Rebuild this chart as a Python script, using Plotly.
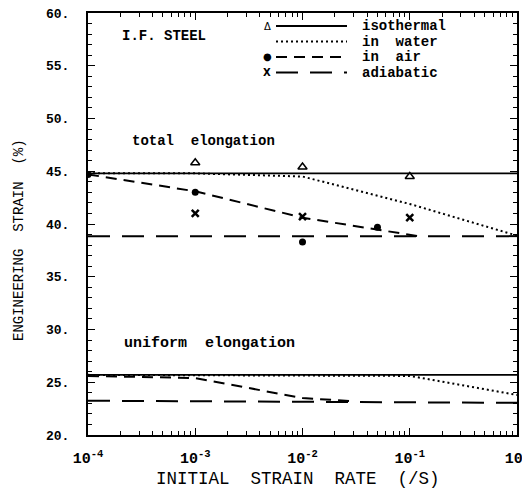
import plotly.graph_objects as go

# ---------------- data ----------------
rate_full = [1e-4, 1e0]

# total elongation
total_iso_line = [44.8, 44.8]
total_iso_rate = [1e-3, 1e-2, 1e-1]
total_iso_pts = [45.8, 45.4, 44.5]

total_water_rate = [1e-4, 1e-3, 1e-2, 1e-1, 1e0]
total_water = [44.8, 44.8, 44.5, 41.9, 38.9]

total_air_line_rate = [1e-4, 1e-3, 1e-2, 5e-2, 1.2e-1]
total_air_line = [44.7, 43.1, 40.6, 39.5, 38.85]
total_air_rate = [1e-4, 1e-3, 1e-2, 5e-2]
total_air_pts = [44.7, 43.0, 38.3, 39.7]

total_adia_line = [38.85, 38.85]
total_adia_rate = [1e-3, 1e-2, 1e-1]
total_adia_pts = [41.0, 40.7, 40.6]

# uniform elongation
unif_iso_line = [25.7, 25.7]
unif_water_rate = [1e-4, 1e-1, 1e0]
unif_water = [25.7, 25.6, 23.8]
unif_air_rate = [1e-4, 1e-3, 1e-2, 3e-2]
unif_air = [25.6, 25.4, 23.5, 23.2]
unif_adia_line = [23.25, 23.05]

x_tickvals = [1e-4, 1e-3, 1e-2, 1e-1, 1e0]
x_exponents = ["-4", "-3", "-2", "-1", "0"]
y_tickvals = [20, 25, 30, 35, 40, 45, 50, 55, 60]
y_ticktext = ["20.", "25.", "30.", "35.", "40.", "45.", "50.", "55.", "60."]

legend_names = ["isothermal", "in water", "in air", "adiabatic"]

# ---------------- styles ----------------
K = "black"
SOLID = dict(color=K, width=1.8, dash="solid")
DOT = dict(color=K, width=2, dash="2px,3px")
DASH = dict(color=K, width=2, dash="11px,7px")
LDASH = dict(color=K, width=2, dash="22px,12px")

fig = go.Figure()

def line(x, y, st):
    fig.add_trace(go.Scatter(x=x, y=y, mode="lines", line=st,
                             showlegend=False, hoverinfo="skip"))

def pts(x, y, sym, size, lw=1.5):
    fig.add_trace(go.Scatter(x=x, y=y, mode="markers",
                             marker=dict(symbol=sym, size=size, color=K,
                                         line=dict(color=K, width=lw)),
                             showlegend=False, hoverinfo="skip"))

# total elongation
line(rate_full, total_iso_line, SOLID)
line(total_water_rate, total_water, DOT)
line(total_air_line_rate, total_air_line, DASH)
line(rate_full, total_adia_line, LDASH)
pts(total_iso_rate, total_iso_pts, "triangle-up-open", 8)
pts(total_air_rate, total_air_pts, "circle", 7, 0)
pts(total_adia_rate, total_adia_pts, "x-thin", 7, 2.5)

# uniform elongation
line(rate_full, unif_iso_line, SOLID)
line(unif_water_rate, unif_water, DOT)
line(unif_air_rate, unif_air, DASH)
line(rate_full, unif_adia_line, LDASH)

# ---------------- layout ----------------
# page offset of 8px (browser body margin)
OFF = 8
PL, PR, PT, PB = 88, 517, 13, 435          # plot box in page pixels
W, H = 530 - OFF, 489 - OFF
L, T = PL - OFF, PT - OFF
R = (OFF + W) - PR
B = (OFF + H) - PB
pw, ph = W - L - R, H - T - B

def px(x):
    return (x - PL) / pw

def py(y):
    return 1 - (y - PT) / ph

MONO = "Liberation Mono"
x_ticktext = ["10<sup>%s</sup>" % e for e in x_exponents]

annotations = [
    dict(x=px(120), y=py(36), text="<b>I.F. STEEL</b>",
         font=dict(family=MONO, size=14, color=K)),
    dict(x=px(130), y=py(141), text="<b>total\u00a0 elongation</b>",
         font=dict(family=MONO, size=14, color=K)),
    dict(x=px(122), y=py(343), text="<b>uniform\u00a0 elongation</b>",
         font=dict(family=MONO, size=15, color=K)),
]
for a in annotations:
    a.update(xref="paper", yref="paper", xanchor="left", yanchor="middle",
             showarrow=False)

# axis titles
annotations.append(dict(
    x=px(298), y=py(479), xref="paper", yref="paper",
    text="INITIAL\u00a0 STRAIN\u00a0 RATE\u00a0 (/S)", showarrow=False,
    xanchor="center", yanchor="middle",
    font=dict(family=MONO, size=17.5, color=K)))
annotations.append(dict(
    x=px(19), y=py(240), xref="paper", yref="paper",
    text="ENGINEERING\u00a0 STRAIN\u00a0 (%)", showarrow=False, textangle=-90,
    xanchor="center", yanchor="middle",
    font=dict(family=MONO, size=14, color=K)))

# custom legend
leg_rows = [26, 41.5, 57, 72.5]
leg_styles = [SOLID, DOT, DASH, LDASH]
leg_syms = ["\u0394", "", "\u25CF", "<b>X</b>"]
shapes = []
for name, yy, st, sym in zip(legend_names, leg_rows, leg_styles, leg_syms):
    shapes.append(dict(type="line", xref="paper", yref="paper",
                       x0=px(276), x1=px(347), y0=py(yy), y1=py(yy),
                       line=dict(color=K, width=st["width"], dash=st["dash"])))
    if sym:
        annotations.append(dict(x=px(267), y=py(yy), xref="paper", yref="paper",
                                text=sym, showarrow=False, xanchor="center",
                                yanchor="middle",
                                font=dict(family="DejaVu Sans", size=10, color=K)))
    annotations.append(dict(x=px(360), y=py(yy), xref="paper", yref="paper",
                            text="<b>" + name.replace(" ", "\u00a0 ") + "</b>",
                            showarrow=False, xanchor="left", yanchor="middle",
                            font=dict(family=MONO, size=14, color=K)))

fig.update_layout(
    width=W, height=H,
    margin=dict(l=L, r=R, t=T, b=B, pad=0),
    paper_bgcolor="white", plot_bgcolor="white",
    showlegend=False,
    annotations=annotations,
    shapes=shapes,
    xaxis=dict(type="log", range=[-4, 0], tickvals=x_tickvals,
               ticktext=x_ticktext, ticks="inside", ticklen=7, tickwidth=1.2,
               tickcolor=K, showline=True, linecolor=K, linewidth=2,
               mirror="ticks", showgrid=False, zeroline=False,
               tickfont=dict(family=MONO, size=15, color=K, weight="bold"),
               ticklabelstandoff=8, ticklabeloverflow="allow",
               automargin=False,
               minor=dict(ticks="inside", ticklen=4, tickcolor=K, dtick="D1",
                          showgrid=False)),
    yaxis=dict(range=[20, 60], tickvals=y_tickvals, ticktext=y_ticktext,
               ticks="inside", ticklen=7, tickwidth=1.2, tickcolor=K,
               showline=True, linecolor=K, linewidth=2, mirror="ticks",
               showgrid=False, zeroline=False,
               tickfont=dict(family=MONO, size=13, color=K, weight="bold"),
               ticklabelstandoff=14, ticklabeloverflow="allow",
               automargin=False,
               minor=dict(ticks="inside", ticklen=4, tickcolor=K, dtick=1,
                          showgrid=False)),
)

fig.write_html("out.html")
